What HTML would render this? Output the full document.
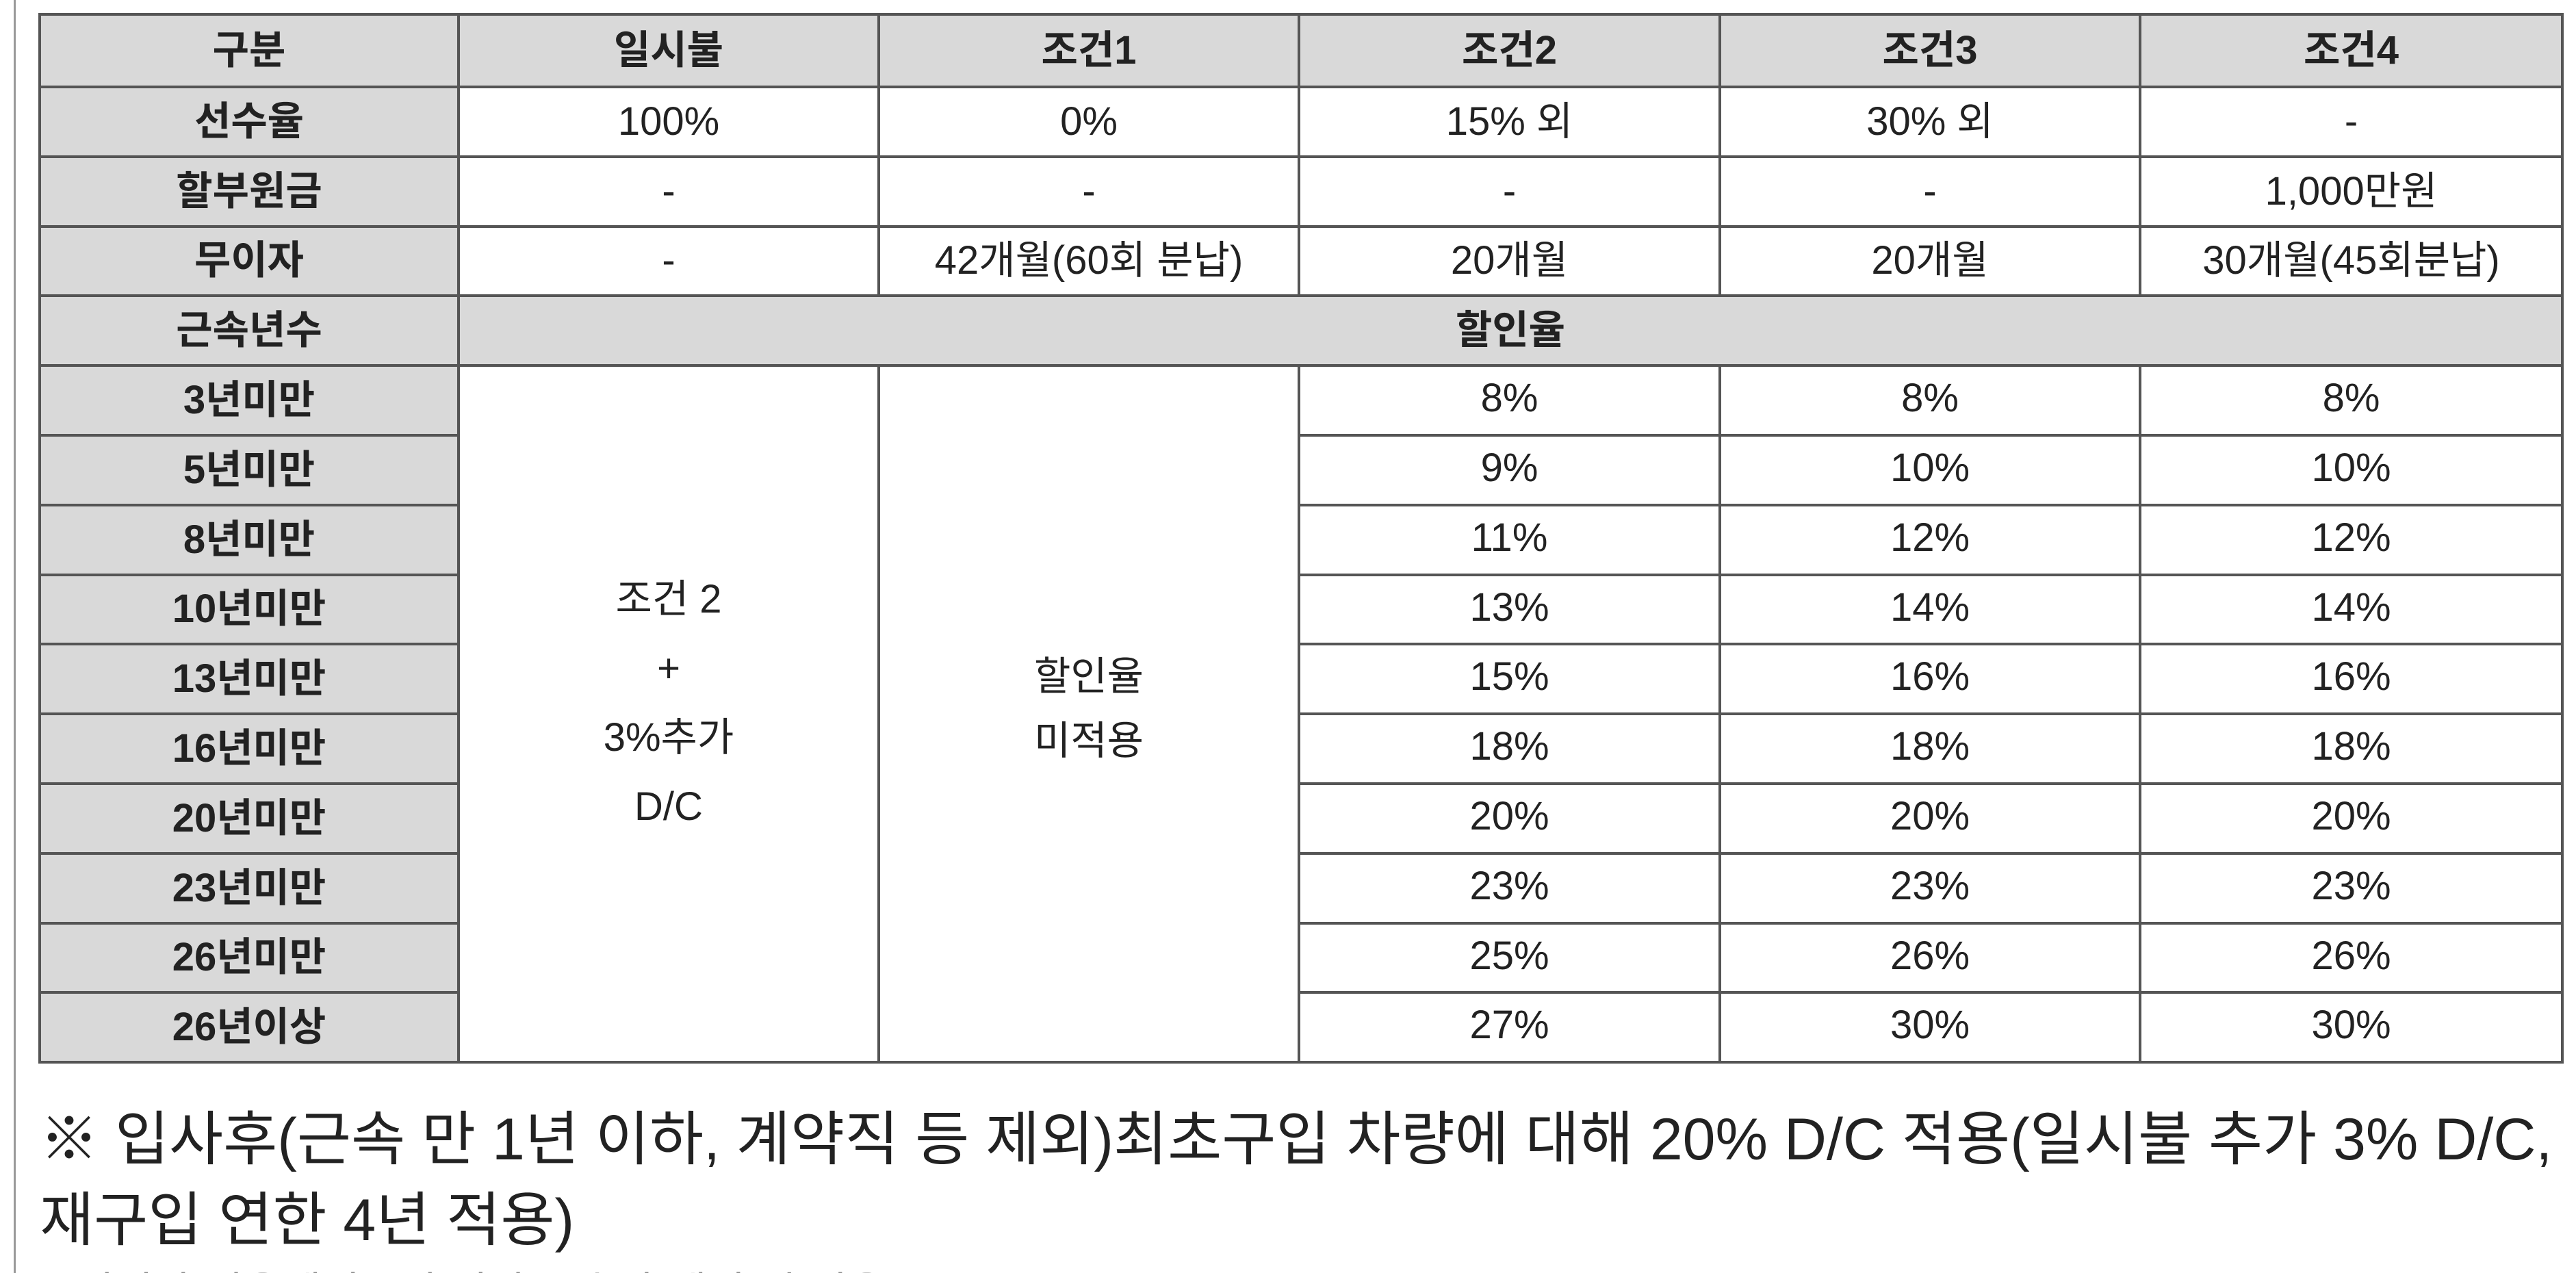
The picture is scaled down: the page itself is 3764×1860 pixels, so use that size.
<!DOCTYPE html>
<html><head><meta charset="utf-8"><style>
html,body{margin:0;padding:0;background:#fff;width:3764px;height:1860px;overflow:hidden;position:relative;font-family:"Liberation Sans","Noto Sans CJK KR","NanumGothic",sans-serif;color:#222}
div{position:absolute;box-sizing:border-box}
.g{background:#d9d9d9}
.h{height:4px;background:#555}
.v{width:4px;background:#555}
.c{display:flex;align-items:center;justify-content:center;text-align:center;font-size:58px;line-height:1.15}
.b{font-weight:bold}
.note{font-size:86px;white-space:nowrap;color:#222;left:58px}
</style></head><body>
<div style="left:20px;top:0;width:3px;height:1860px;background:#999"></div>
<div class="g" style="left:58px;top:21px;width:3686px;height:106px"></div>
<div class="g" style="left:58px;top:127px;width:612px;height:1425px"></div>
<div class="g" style="left:670px;top:432px;width:3074px;height:102px"></div>
<div class="h" style="left:56px;top:19px;width:3690px"></div>
<div class="h" style="left:56px;top:125px;width:3690px"></div>
<div class="h" style="left:56px;top:227px;width:3690px"></div>
<div class="h" style="left:56px;top:329px;width:3690px"></div>
<div class="h" style="left:56px;top:430px;width:3690px"></div>
<div class="h" style="left:56px;top:532px;width:3690px"></div>
<div class="h" style="left:56px;top:1550px;width:3690px"></div>
<div class="h" style="left:56px;top:634px;width:616px"></div><div class="h" style="left:1896px;top:634px;width:1850px"></div>
<div class="h" style="left:56px;top:736px;width:616px"></div><div class="h" style="left:1896px;top:736px;width:1850px"></div>
<div class="h" style="left:56px;top:838px;width:616px"></div><div class="h" style="left:1896px;top:838px;width:1850px"></div>
<div class="h" style="left:56px;top:939px;width:616px"></div><div class="h" style="left:1896px;top:939px;width:1850px"></div>
<div class="h" style="left:56px;top:1041px;width:616px"></div><div class="h" style="left:1896px;top:1041px;width:1850px"></div>
<div class="h" style="left:56px;top:1143px;width:616px"></div><div class="h" style="left:1896px;top:1143px;width:1850px"></div>
<div class="h" style="left:56px;top:1245px;width:616px"></div><div class="h" style="left:1896px;top:1245px;width:1850px"></div>
<div class="h" style="left:56px;top:1347px;width:616px"></div><div class="h" style="left:1896px;top:1347px;width:1850px"></div>
<div class="h" style="left:56px;top:1448px;width:616px"></div><div class="h" style="left:1896px;top:1448px;width:1850px"></div>
<div class="v" style="left:56px;top:19px;height:1535px"></div>
<div class="v" style="left:668px;top:19px;height:1535px"></div>
<div class="v" style="left:3742px;top:19px;height:1535px"></div>
<div class="v" style="left:1282px;top:19px;height:413px"></div><div class="v" style="left:1282px;top:532px;height:1022px"></div>
<div class="v" style="left:1896px;top:19px;height:413px"></div><div class="v" style="left:1896px;top:532px;height:1022px"></div>
<div class="v" style="left:2511px;top:19px;height:413px"></div><div class="v" style="left:2511px;top:532px;height:1022px"></div>
<div class="v" style="left:3125px;top:19px;height:413px"></div><div class="v" style="left:3125px;top:532px;height:1022px"></div>
<div class="c b" style="left:58px;top:21px;width:612px;height:106px">구분</div>
<div class="c b" style="left:670px;top:21px;width:614px;height:106px">일시불</div>
<div class="c b" style="left:1284px;top:21px;width:614px;height:106px">조건1</div>
<div class="c b" style="left:1898px;top:21px;width:615px;height:106px">조건2</div>
<div class="c b" style="left:2513px;top:21px;width:614px;height:106px">조건3</div>
<div class="c b" style="left:3127px;top:21px;width:617px;height:106px">조건4</div>
<div class="c b" style="left:58px;top:127px;width:612px;height:102px">선수율</div>
<div class="c" style="left:670px;top:127px;width:614px;height:102px">100%</div>
<div class="c" style="left:1284px;top:127px;width:614px;height:102px">0%</div>
<div class="c" style="left:1898px;top:127px;width:615px;height:102px">15% 외</div>
<div class="c" style="left:2513px;top:127px;width:614px;height:102px">30% 외</div>
<div class="c" style="left:3127px;top:127px;width:617px;height:102px">-</div>
<div class="c b" style="left:58px;top:229px;width:612px;height:102px">할부원금</div>
<div class="c" style="left:670px;top:229px;width:614px;height:102px">-</div>
<div class="c" style="left:1284px;top:229px;width:614px;height:102px">-</div>
<div class="c" style="left:1898px;top:229px;width:615px;height:102px">-</div>
<div class="c" style="left:2513px;top:229px;width:614px;height:102px">-</div>
<div class="c" style="left:3127px;top:229px;width:617px;height:102px">1,000만원</div>
<div class="c b" style="left:58px;top:331px;width:612px;height:101px">무이자</div>
<div class="c" style="left:670px;top:331px;width:614px;height:101px">-</div>
<div class="c" style="left:1284px;top:331px;width:614px;height:101px">42개월(60회 분납)</div>
<div class="c" style="left:1898px;top:331px;width:615px;height:101px">20개월</div>
<div class="c" style="left:2513px;top:331px;width:614px;height:101px">20개월</div>
<div class="c" style="left:3127px;top:331px;width:617px;height:101px">30개월(45회분납)</div>
<div class="c b" style="left:58px;top:432px;width:612px;height:102px">근속년수</div>
<div class="c b" style="left:670px;top:432px;width:3074px;height:102px">할인율</div>
<div class="c" style="left:670px;top:534px;width:614px;height:1018px;line-height:1.74;padding-bottom:30px">조건 2<br>+<br>3%추가<br>D/C</div>
<div class="c" style="left:1284px;top:534px;width:614px;height:1018px;line-height:1.62;padding-bottom:14px">할인율<br>미적용</div>
<div class="c b" style="left:58px;top:534px;width:612px;height:102px">3년미만</div>
<div class="c b" style="left:58px;top:636px;width:612px;height:102px">5년미만</div>
<div class="c b" style="left:58px;top:738px;width:612px;height:102px">8년미만</div>
<div class="c b" style="left:58px;top:840px;width:612px;height:101px">10년미만</div>
<div class="c b" style="left:58px;top:941px;width:612px;height:102px">13년미만</div>
<div class="c b" style="left:58px;top:1043px;width:612px;height:102px">16년미만</div>
<div class="c b" style="left:58px;top:1145px;width:612px;height:102px">20년미만</div>
<div class="c b" style="left:58px;top:1247px;width:612px;height:102px">23년미만</div>
<div class="c b" style="left:58px;top:1349px;width:612px;height:101px">26년미만</div>
<div class="c b" style="left:58px;top:1450px;width:612px;height:102px">26년이상</div>
<div class="c" style="left:1898px;top:534px;width:615px;height:96px">8%</div><div class="c" style="left:2513px;top:534px;width:614px;height:96px">8%</div><div class="c" style="left:3127px;top:534px;width:617px;height:96px">8%</div>
<div class="c" style="left:1898px;top:636px;width:615px;height:96px">9%</div><div class="c" style="left:2513px;top:636px;width:614px;height:96px">10%</div><div class="c" style="left:3127px;top:636px;width:617px;height:96px">10%</div>
<div class="c" style="left:1898px;top:738px;width:615px;height:96px">11%</div><div class="c" style="left:2513px;top:738px;width:614px;height:96px">12%</div><div class="c" style="left:3127px;top:738px;width:617px;height:96px">12%</div>
<div class="c" style="left:1898px;top:840px;width:615px;height:96px">13%</div><div class="c" style="left:2513px;top:840px;width:614px;height:96px">14%</div><div class="c" style="left:3127px;top:840px;width:617px;height:96px">14%</div>
<div class="c" style="left:1898px;top:941px;width:615px;height:96px">15%</div><div class="c" style="left:2513px;top:941px;width:614px;height:96px">16%</div><div class="c" style="left:3127px;top:941px;width:617px;height:96px">16%</div>
<div class="c" style="left:1898px;top:1043px;width:615px;height:96px">18%</div><div class="c" style="left:2513px;top:1043px;width:614px;height:96px">18%</div><div class="c" style="left:3127px;top:1043px;width:617px;height:96px">18%</div>
<div class="c" style="left:1898px;top:1145px;width:615px;height:96px">20%</div><div class="c" style="left:2513px;top:1145px;width:614px;height:96px">20%</div><div class="c" style="left:3127px;top:1145px;width:617px;height:96px">20%</div>
<div class="c" style="left:1898px;top:1247px;width:615px;height:96px">23%</div><div class="c" style="left:2513px;top:1247px;width:614px;height:96px">23%</div><div class="c" style="left:3127px;top:1247px;width:617px;height:96px">23%</div>
<div class="c" style="left:1898px;top:1349px;width:615px;height:96px">25%</div><div class="c" style="left:2513px;top:1349px;width:614px;height:96px">26%</div><div class="c" style="left:3127px;top:1349px;width:617px;height:96px">26%</div>
<div class="c" style="left:1898px;top:1450px;width:615px;height:96px">27%</div><div class="c" style="left:2513px;top:1450px;width:614px;height:96px">30%</div><div class="c" style="left:3127px;top:1450px;width:617px;height:96px">30%</div>
<div class="note" style="top:1594px">※ 입사후(근속 만 1년 이하, 계약직 등 제외)최초구입 차량에 대해 20% D/C 적용(일시불 추가 3% D/C,</div>
<div class="note" style="top:1712px">재구입 연한 4년 적용)</div>
<div class="note" style="top:1838px;color:#888;font-size:62px;left:110px">퇴직자 적용제외(1년 미만 근속자 제외 시 적용)</div>
</body></html>
